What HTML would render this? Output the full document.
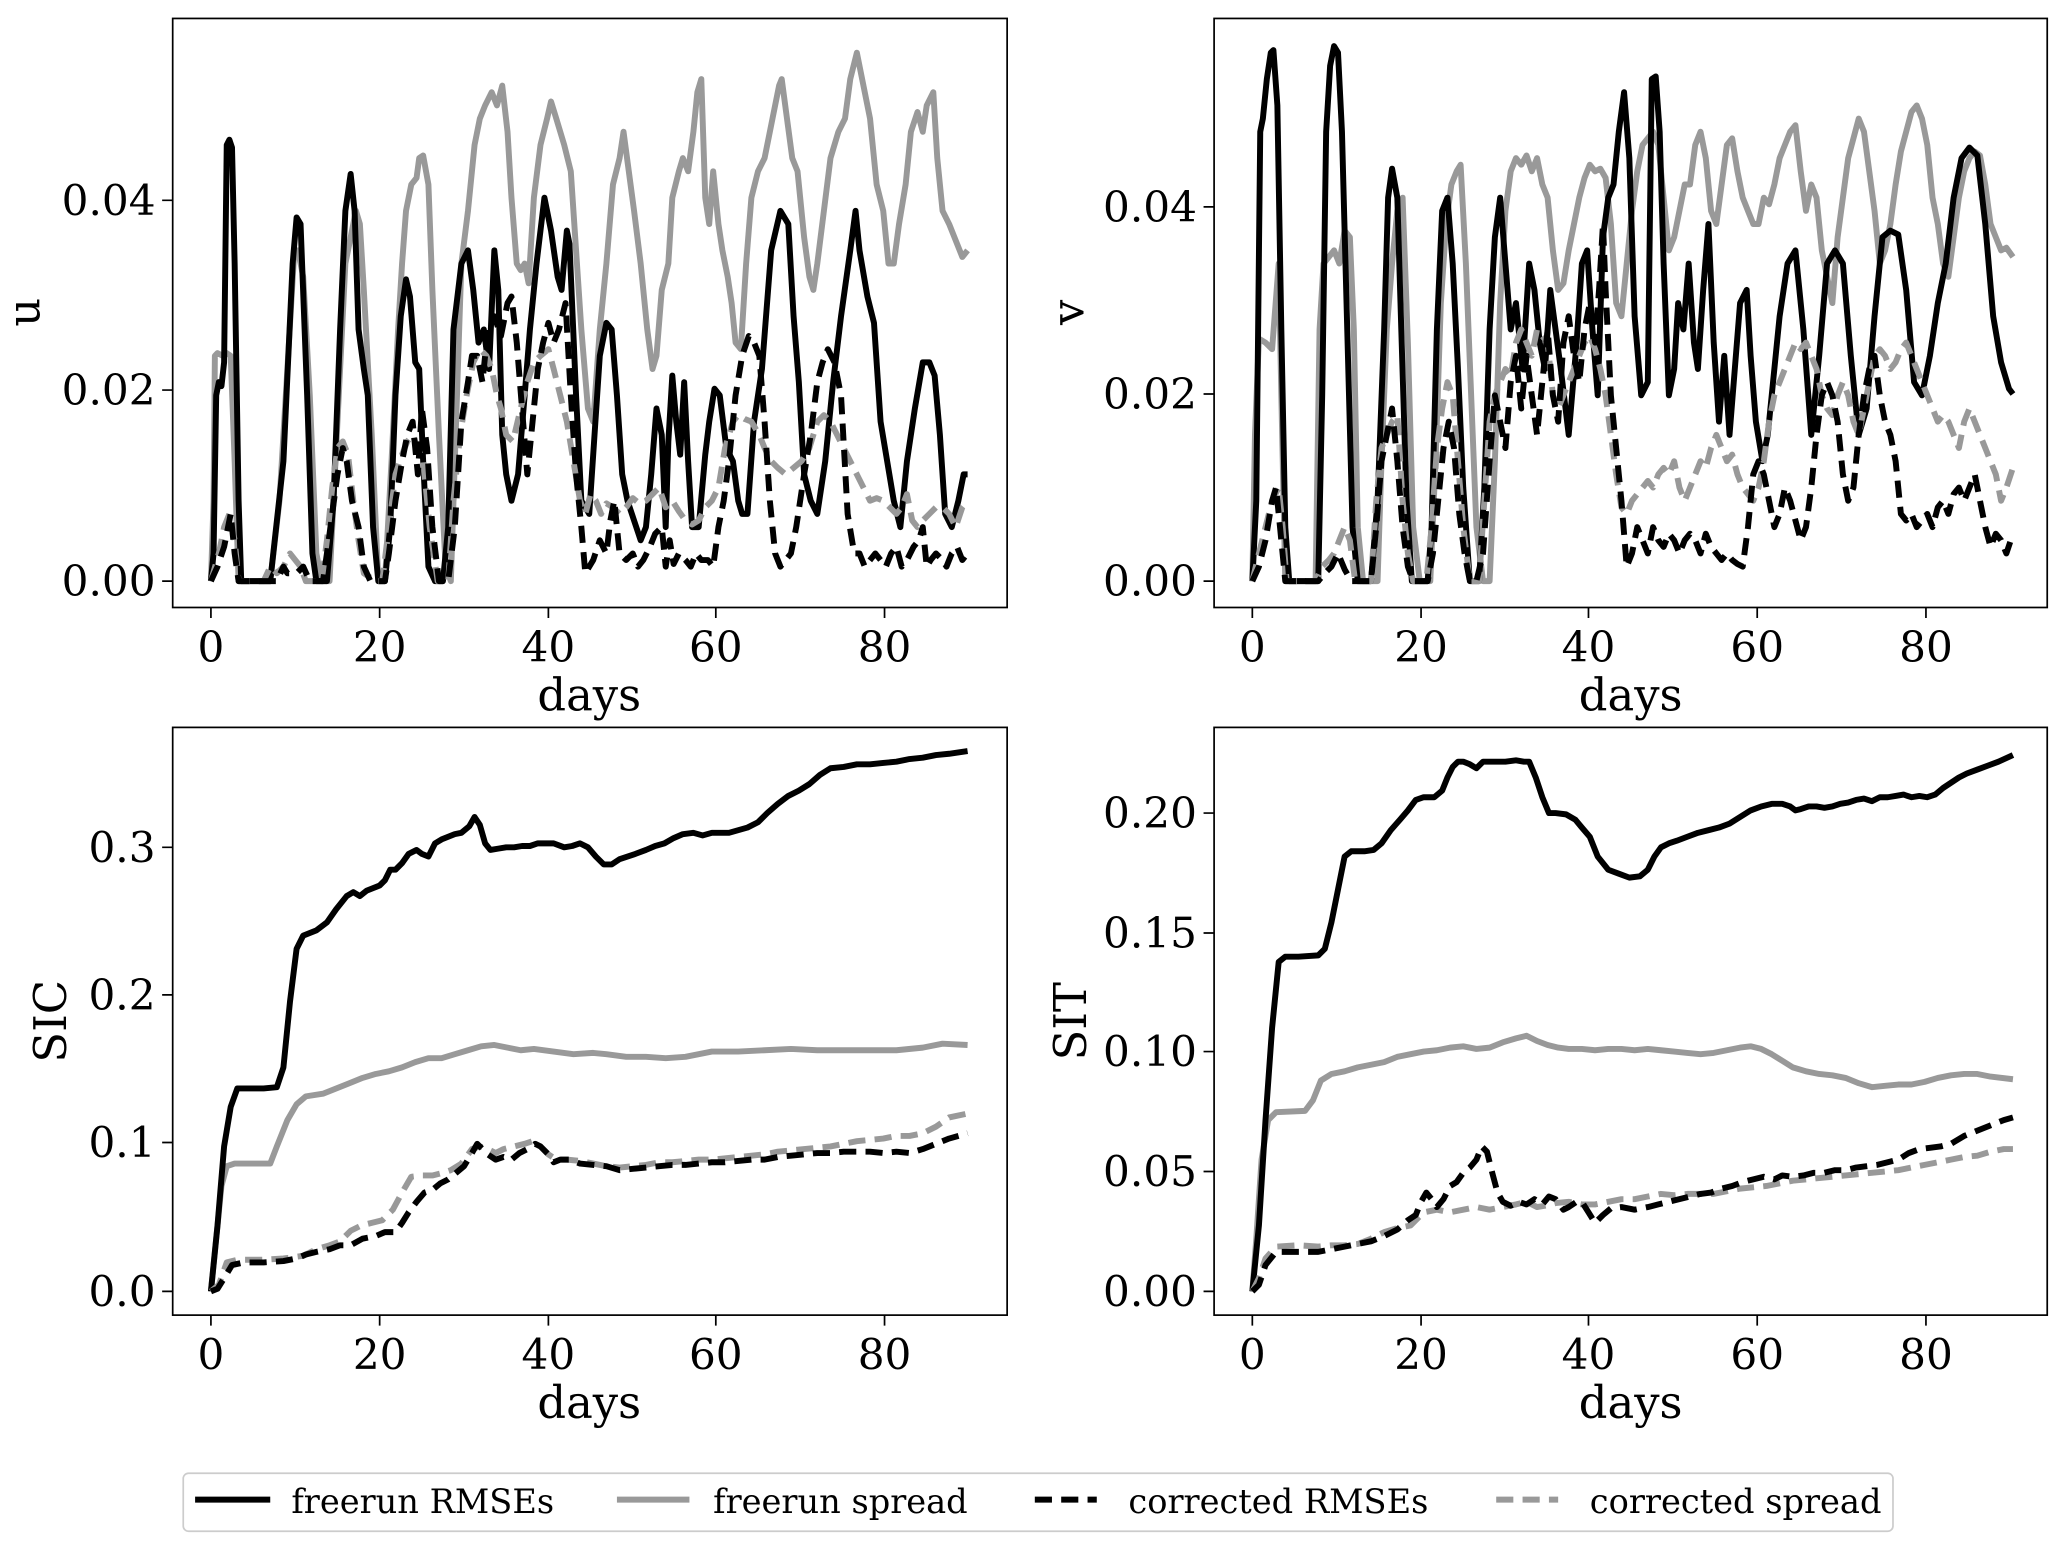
<!DOCTYPE html>
<html><head><meta charset="utf-8"><style>
html,body{margin:0;padding:0;background:#fff;}
svg{display:block;}
text{font-family:"DejaVu Serif","Liberation Serif",serif;fill:#000;}
.t{font-size:32px;}
.l{font-size:34px;}
.lg{font-size:25.5px;}
.k{fill:none;stroke:#000;stroke-width:4.5;stroke-linejoin:round;}
.g{fill:none;stroke:#999;stroke-width:4.5;stroke-linejoin:round;}
.kd{fill:none;stroke:#000;stroke-width:4.5;stroke-dasharray:13,7;stroke-linejoin:round;}
.gd{fill:none;stroke:#999;stroke-width:4.5;stroke-dasharray:13,7;stroke-linejoin:round;}
.ax{fill:none;stroke:#000;stroke-width:1.3;}
</style></head><body>
<svg width="2067" height="1551" viewBox="0 0 1568 1177" preserveAspectRatio="none" xmlns="http://www.w3.org/2000/svg">
<rect width="1568" height="1177" fill="#fff"/>

<!-- ===== Panel u ===== -->
<g>
<polyline class="g" points="160,441 162,380 163,270 165,268 169,270 172,268 175,270 178,350 181,441 205,441 212,380 218,280 223,195 226,190 230,210 235,300 240,420 244,441 250,441 253,380 258,280 262,200 266,180 270,160 273,170 276,220 282,330 287,441 292,441 297,350 302,250 305,200 308,160 312,140 316,135 318,120 321,118 325,140 328,220 333,330 338,430 342,441 345,350 350,200 355,160 360,110 364,90 368,80 373,70 377,80 381,65 385,100 388,150 392,200 395,205 398,200 401,215 405,150 410,110 415,90 418,77 422,90 428,110 433,130 437,190 441,250 446,310 450,320 455,250 460,200 465,140 470,120 473,100 477,130 481,160 486,200 491,250 495,280 498,270 502,220 507,200 510,150 515,130 518,120 522,130 526,100 529,70 532,60 535,150 538,170 541,130 545,170 548,190 552,210 555,230 558,260 562,265 566,200 570,150 575,130 580,120 586,90 591,65 593,60 597,90 601,120 605,130 610,180 614,210 617,220 620,200 625,160 630,120 636,100 641,90 645,60 650,40 654,60 660,90 665,140 670,160 674,200 678,200 682,170 687,140 691,100 696,85 700,100 703,80 708,70 711,120 715,160 720,170 724,180 730,195 734,190"/>
<polyline class="k" points="160,441 162,420 164,300 166,290 168,293 170,275 172,110 174,106 176,112 178,200 181,380 183,441 190,441 205,441 215,350 222,200 225,165 228,170 233,300 237,420 240,441 248,441 253,380 258,250 262,160 266,132 269,160 272,250 276,280 279,300 283,400 287,441 292,441 296,400 300,300 304,240 308,212 311,225 315,275 318,280 321,350 325,430 330,441 336,441 340,400 344,250 350,200 355,190 359,220 363,260 367,250 371,280 375,190 378,220 381,330 384,360 388,380 393,360 398,300 402,250 407,200 413,150 418,175 423,210 426,220 430,175 432,185 437,300 441,380 447,390 451,330 455,270 460,245 464,250 468,300 472,360 476,380 481,395 486,410 490,400 494,360 498,310 502,330 505,400 507,335 510,285 513,320 516,345 519,290 522,350 525,400 530,400 535,345 538,320 542,295 546,300 551,340 556,350 560,380 563,390 567,390 572,320 578,280 585,190 592,160 598,170 602,240 606,290 610,360 615,380 620,390 626,350 632,290 638,240 645,190 649,160 652,190 658,225 663,245 668,320 673,350 678,380 683,400 688,350 694,310 700,275 705,275 709,285 713,330 717,390 722,400 727,380 731,360 734,360"/>
<polyline class="gd" points="160,441 166,420 170,400 174,390 178,410 181,441 200,441 205,430 210,435 215,430 220,420 224,425 228,430 232,441 244,441 248,410 252,370 256,340 260,335 264,345 268,380 272,410 276,435 285,441 290,441 295,400 300,360 305,345 309,335 313,330 317,340 321,350 326,400 332,441 340,441 344,380 349,330 354,300 359,275 364,265 369,270 373,280 377,300 380,310 384,330 389,335 395,310 400,290 405,275 410,270 416,265 420,280 425,300 430,320 435,350 440,380 444,390 448,375 452,380 456,390 460,382 465,385 470,390 475,385 480,378 485,382 490,380 495,375 500,370 505,385 510,380 515,388 520,395 525,398 530,395 535,385 540,380 545,370 550,340 556,320 560,315 565,318 570,320 576,330 580,340 585,350 590,355 596,360 602,355 608,350 614,340 620,320 625,315 630,320 635,330 640,340 645,350 650,360 655,370 660,380 665,378 670,380 675,385 680,390 684,385 688,375 692,395 696,400 700,395 705,390 710,385 715,385 720,390 725,400 730,385 734,380"/>
<polyline class="kd" points="160,441 165,430 170,415 175,390 178,420 181,441 210,441 215,430 218,435 225,435 230,430 235,441 245,441 248,420 252,390 256,360 260,340 263,350 267,380 272,400 276,430 281,441 292,441 295,420 300,380 305,350 309,330 313,320 317,360 320,310 324,340 328,400 333,441 340,441 345,400 350,320 355,290 358,270 362,270 366,290 370,250 375,240 380,255 385,230 388,225 392,260 396,310 400,360 404,320 408,280 412,260 416,245 420,260 424,250 429,230 433,300 437,360 441,400 444,435 450,425 455,410 460,420 463,395 466,380 470,420 475,425 480,420 484,430 488,425 493,415 497,405 502,400 505,430 508,410 511,428 515,420 520,425 524,430 528,420 532,425 537,425 541,430 545,400 549,380 553,350 558,300 563,270 568,255 572,260 576,270 580,320 584,380 588,420 592,430 596,425 600,420 604,400 610,360 615,330 620,290 624,275 628,265 633,275 638,300 643,390 648,420 652,420 656,430 660,425 664,420 668,425 672,430 676,420 680,415 684,430 688,425 693,415 697,410 700,400 703,430 706,425 710,420 715,425 718,430 722,420 726,415 730,425 734,420"/>
<rect class="ax" x="131" y="14" width="633" height="447"/>
<path class="ax" d="M160,461v8M288,461v8M416,461v8M543,461v8M671,461v8M131,441h-8M131,296h-8M131,152h-8"/>
<g class="t" text-anchor="middle"><text x="160" y="502">0</text><text x="288" y="502">20</text><text x="416" y="502">40</text><text x="543" y="502">60</text><text x="671" y="502">80</text></g>
<g class="t" text-anchor="end"><text x="118" y="452">0.00</text><text x="118" y="307">0.02</text><text x="118" y="163">0.04</text></g>
<text class="l" x="447" y="539" text-anchor="middle">days</text>
<text class="l" transform="translate(30,237) rotate(-90)" text-anchor="middle">u</text>
</g>

<!-- ===== Panel v ===== -->
<g>
<polyline class="g" points="950,441 952,330 955,257 960,260 965,265 970,200 972,300 975,441 998,441 1001,250 1004,200 1008,195 1012,190 1016,200 1020,175 1024,180 1027,250 1030,400 1034,441 1045,441 1048,350 1052,250 1056,200 1060,160 1064,150 1068,260 1072,400 1077,441 1085,441 1089,350 1093,230 1097,170 1101,140 1105,130 1108,125 1112,200 1116,300 1120,400 1125,441 1130,441 1134,350 1138,230 1142,160 1146,130 1150,120 1154,125 1158,118 1162,130 1166,120 1170,140 1174,150 1178,190 1182,220 1186,215 1190,190 1194,170 1198,150 1202,135 1206,125 1210,130 1214,128 1218,135 1222,170 1226,230 1230,240 1234,200 1238,160 1242,130 1246,110 1250,105 1254,100 1258,110 1262,150 1266,190 1270,180 1274,160 1278,140 1282,140 1286,110 1290,100 1294,120 1298,160 1302,170 1306,140 1310,110 1314,105 1318,130 1322,150 1326,160 1330,170 1334,170 1338,150 1342,155 1346,140 1350,120 1354,110 1358,100 1362,95 1366,130 1370,160 1374,140 1378,150 1382,190 1386,210 1390,230 1394,180 1398,150 1402,120 1406,105 1410,90 1414,100 1418,130 1422,160 1426,200 1430,190 1434,170 1438,140 1442,115 1446,100 1450,85 1454,80 1458,90 1462,110 1466,150 1470,170 1474,200 1478,210 1482,180 1486,150 1490,130 1494,120 1498,115 1502,118 1506,140 1510,170 1514,180 1518,190 1522,188 1527,195"/>
<polyline class="k" points="950,441 953,380 956,100 958,90 961,60 964,40 966,38 969,80 972,250 975,400 978,441 1000,441 1003,300 1006,100 1009,50 1012,35 1015,40 1018,100 1022,250 1026,400 1030,441 1040,441 1045,380 1050,250 1053,150 1056,128 1060,150 1063,250 1067,380 1071,441 1083,441 1086,400 1090,250 1094,160 1098,150 1102,200 1106,280 1110,370 1115,441 1122,441 1126,370 1130,250 1134,180 1138,150 1142,200 1146,250 1150,230 1155,280 1160,200 1164,220 1168,260 1172,280 1176,220 1180,250 1184,280 1190,330 1196,260 1200,200 1204,190 1208,250 1212,300 1216,180 1220,150 1224,140 1228,100 1232,70 1236,120 1240,240 1245,300 1250,290 1253,60 1256,58 1259,100 1262,200 1266,300 1270,280 1273,230 1277,250 1281,200 1285,260 1288,280 1292,220 1296,170 1300,260 1304,320 1308,270 1312,330 1316,280 1320,230 1325,220 1328,270 1332,320 1337,350 1341,330 1345,290 1350,240 1356,200 1362,190 1368,250 1374,330 1380,270 1386,200 1392,190 1398,200 1404,270 1410,330 1416,310 1422,240 1428,180 1434,175 1440,178 1446,220 1452,290 1458,300 1464,270 1470,230 1476,200 1482,150 1488,120 1494,112 1500,118 1506,170 1512,240 1518,275 1524,295 1527,299"/>
<polyline class="gd" points="950,441 955,420 960,400 965,380 970,370 973,400 976,441 998,441 1003,430 1008,425 1012,420 1016,410 1020,400 1024,410 1028,441 1040,441 1044,380 1048,340 1052,330 1056,320 1060,315 1064,380 1068,420 1072,441 1082,441 1086,400 1090,340 1094,310 1098,290 1102,300 1106,350 1110,400 1115,441 1122,441 1126,380 1130,320 1134,300 1138,290 1142,280 1146,285 1150,260 1154,250 1158,260 1162,270 1166,250 1170,255 1174,260 1178,300 1182,310 1186,300 1190,290 1194,280 1198,270 1202,260 1206,255 1210,265 1214,280 1218,300 1222,330 1226,360 1230,385 1234,390 1238,380 1242,375 1246,370 1250,365 1254,370 1258,360 1262,355 1266,360 1270,350 1274,370 1278,380 1282,370 1286,360 1290,350 1294,355 1298,340 1302,330 1306,340 1310,350 1314,345 1318,360 1322,370 1326,375 1330,380 1334,370 1338,350 1342,320 1346,300 1350,290 1354,280 1358,270 1362,260 1366,265 1370,260 1374,270 1378,280 1382,300 1386,310 1390,315 1394,300 1398,290 1402,300 1406,320 1410,330 1414,310 1418,290 1422,270 1426,265 1430,270 1434,280 1438,275 1442,265 1446,260 1450,270 1454,280 1458,290 1462,300 1466,310 1470,320 1474,315 1478,320 1482,330 1486,340 1490,320 1494,310 1498,320 1502,330 1506,340 1510,350 1514,360 1518,380 1522,370 1527,355"/>
<polyline class="kd" points="950,441 955,430 960,410 965,380 968,370 971,400 975,441 1000,441 1005,435 1010,430 1015,420 1020,432 1025,441 1040,441 1044,400 1048,350 1052,330 1056,310 1060,350 1064,400 1068,430 1072,441 1083,441 1087,420 1091,380 1095,340 1099,320 1103,340 1107,390 1111,420 1115,441 1120,441 1125,420 1130,350 1134,300 1138,320 1142,340 1146,290 1150,270 1154,310 1158,270 1162,300 1166,330 1170,290 1174,250 1178,300 1182,320 1186,260 1190,240 1194,270 1198,290 1202,250 1206,230 1210,260 1213,220 1216,170 1218,220 1222,300 1226,340 1230,380 1234,430 1238,420 1242,400 1246,410 1250,420 1254,400 1258,410 1262,415 1266,405 1270,410 1274,420 1278,410 1282,405 1286,410 1290,420 1294,405 1298,415 1302,420 1306,425 1310,420 1314,425 1318,428 1322,430 1326,400 1330,360 1334,350 1338,360 1342,380 1346,400 1350,390 1354,370 1358,380 1362,395 1366,410 1370,400 1374,370 1378,330 1382,300 1386,290 1390,300 1394,320 1398,360 1402,380 1406,370 1410,330 1414,300 1418,280 1422,270 1426,300 1430,320 1434,330 1438,350 1442,390 1446,395 1450,390 1454,400 1458,395 1462,390 1466,400 1470,385 1474,380 1478,390 1482,375 1486,370 1490,380 1494,370 1498,360 1502,380 1506,400 1510,415 1514,405 1518,410 1522,420 1527,405"/>
<rect class="ax" x="921" y="14" width="632" height="447"/>
<path class="ax" d="M950,461v8M1078,461v8M1205,461v8M1333,461v8M1461,461v8M921,441h-8M921,299h-8M921,157h-8"/>
<g class="t" text-anchor="middle"><text x="950" y="502">0</text><text x="1078" y="502">20</text><text x="1205" y="502">40</text><text x="1333" y="502">60</text><text x="1461" y="502">80</text></g>
<g class="t" text-anchor="end"><text x="908" y="452">0.00</text><text x="908" y="310">0.02</text><text x="908" y="168">0.04</text></g>
<text class="l" x="1237" y="539" text-anchor="middle">days</text>
<text class="l" transform="translate(822,237) rotate(-90)" text-anchor="middle">v</text>
</g>

<!-- ===== Panel SIC ===== -->
<g>
<polyline class="g" points="160,980 163,950 168,900 172,885 178,883 205,883 210,870 218,850 225,838 232,832 245,830 255,826 265,822 275,818 285,815 295,813 305,810 315,806 325,803 335,803 345,800 355,797 365,794 375,793 385,795 395,797 405,796 420,798 435,800 450,799 460,800 475,802 490,802 505,803 520,802 530,800 540,798 560,798 580,797 600,796 620,797 640,797 660,797 680,797 700,795 715,792 734,793"/>
<polyline class="k" points="160,980 165,930 170,870 175,840 180,826 185,826 200,826 210,825 215,810 220,760 225,720 230,710 240,706 248,700 255,690 263,680 268,677 273,680 278,676 283,674 288,672 292,668 296,660 300,660 305,655 310,648 316,645 320,648 325,650 330,640 335,637 340,635 345,633 350,632 356,627 360,620 364,626 368,640 372,645 378,644 384,643 390,643 396,642 402,642 408,640 414,640 420,640 428,643 434,642 440,640 446,643 452,650 458,656 464,656 470,652 476,650 482,648 490,645 497,642 504,640 511,636 518,633 526,632 533,634 540,632 547,632 553,632 560,630 567,628 575,624 582,617 590,610 598,604 606,600 614,595 622,588 630,583 640,582 650,580 660,580 670,579 680,578 690,576 700,575 710,573 720,572 734,570"/>
<polyline class="gd" points="160,980 166,975 172,958 180,956 200,956 215,955 230,953 240,948 250,945 258,942 266,934 274,930 282,928 290,926 298,918 305,905 312,893 320,892 328,892 336,890 342,888 350,883 358,872 364,870 370,872 376,875 382,872 390,870 398,868 404,866 410,870 416,876 422,880 430,880 440,881 450,883 460,885 470,886 480,885 490,884 500,882 510,882 520,881 530,880 540,880 550,879 560,878 570,877 580,876 590,874 600,873 610,872 620,871 630,870 640,868 650,866 660,865 670,864 680,862 690,862 700,860 710,855 720,848 734,845"/>
<polyline class="kd" points="160,980 165,978 170,970 176,960 185,958 200,958 215,957 225,955 232,952 240,950 250,948 258,945 266,945 275,940 285,938 292,935 300,935 305,928 310,920 316,912 322,905 328,903 334,898 340,895 346,890 352,885 358,875 362,868 366,872 370,876 376,880 382,878 388,880 394,875 400,872 406,868 410,870 416,876 420,882 425,880 432,880 440,883 450,884 460,885 470,888 480,887 490,886 500,885 510,884 520,884 530,883 540,882 550,882 560,881 570,880 580,880 590,878 600,877 610,876 620,875 630,875 640,874 650,874 660,874 670,875 680,874 690,875 700,872 710,868 720,864 734,860"/>
<rect class="ax" x="131" y="552" width="633" height="446"/>
<path class="ax" d="M160,998v8M288,998v8M416,998v8M543,998v8M671,998v8M131,980h-8M131,867h-8M131,755h-8M131,643h-8"/>
<g class="t" text-anchor="middle"><text x="160" y="1039">0</text><text x="288" y="1039">20</text><text x="416" y="1039">40</text><text x="543" y="1039">60</text><text x="671" y="1039">80</text></g>
<g class="t" text-anchor="end"><text x="118" y="991">0.0</text><text x="118" y="878">0.1</text><text x="118" y="766">0.2</text><text x="118" y="654">0.3</text></g>
<text class="l" x="447" y="1076" text-anchor="middle">days</text>
<text class="l" transform="translate(50,775) rotate(-90)" text-anchor="middle">SIC</text>
</g>

<!-- ===== Panel SIT ===== -->
<g>
<polyline class="g" points="950,980 953,940 957,880 962,850 968,844 990,843 996,835 1002,820 1010,815 1020,813 1030,810 1040,808 1050,806 1060,802 1070,800 1080,798 1090,797 1100,795 1110,794 1120,796 1130,795 1140,791 1150,788 1158,786 1166,790 1174,793 1182,795 1190,796 1200,796 1210,797 1220,796 1230,796 1240,797 1250,796 1260,797 1270,798 1280,799 1290,800 1300,799 1310,797 1320,795 1328,794 1336,796 1344,800 1352,805 1360,810 1370,813 1380,815 1390,816 1400,818 1410,822 1420,825 1430,824 1440,823 1450,823 1460,821 1470,818 1480,816 1490,815 1500,815 1510,817 1527,819"/>
<polyline class="k" points="950,980 955,930 960,850 965,780 970,730 975,726 985,726 1000,725 1005,720 1010,700 1015,675 1020,650 1025,646 1035,646 1042,645 1048,640 1055,630 1062,622 1068,615 1074,607 1080,605 1088,605 1094,600 1098,590 1102,582 1106,578 1110,578 1115,580 1120,583 1125,578 1130,578 1136,578 1142,578 1150,577 1156,578 1160,578 1165,590 1170,605 1175,617 1180,617 1188,618 1195,622 1200,628 1206,635 1212,650 1220,660 1228,663 1236,666 1244,665 1250,660 1255,650 1260,643 1266,640 1272,638 1280,635 1288,632 1296,630 1304,628 1312,625 1320,620 1328,615 1336,612 1344,610 1352,610 1358,612 1362,615 1366,614 1372,612 1378,612 1384,613 1390,612 1396,610 1402,609 1408,607 1414,606 1420,608 1426,605 1432,605 1438,604 1444,603 1450,605 1456,604 1462,605 1468,603 1474,598 1480,594 1486,590 1492,587 1500,584 1508,581 1516,578 1527,573"/>
<polyline class="gd" points="950,980 955,970 960,955 968,946 985,945 1000,946 1010,945 1020,945 1030,944 1040,940 1050,935 1060,932 1070,930 1080,920 1090,918 1100,920 1110,918 1120,916 1130,918 1140,916 1150,914 1158,912 1166,916 1172,915 1180,913 1190,912 1200,914 1210,914 1220,912 1230,910 1240,910 1250,908 1260,906 1270,907 1280,906 1290,906 1300,906 1310,904 1320,902 1330,901 1340,900 1350,898 1360,896 1370,895 1380,894 1390,893 1400,892 1410,891 1420,890 1430,889 1440,888 1450,886 1460,884 1470,882 1480,880 1490,878 1500,877 1510,874 1520,872 1527,872"/>
<polyline class="kd" points="950,980 955,975 960,960 968,950 985,950 1000,950 1010,948 1020,946 1030,944 1040,942 1050,938 1060,933 1068,926 1074,922 1078,912 1082,905 1086,910 1090,916 1095,910 1100,900 1105,897 1110,890 1115,886 1120,880 1124,870 1128,874 1132,890 1136,905 1140,912 1146,915 1152,912 1158,914 1164,910 1170,914 1175,908 1180,910 1186,918 1190,916 1196,912 1200,912 1205,920 1210,928 1216,922 1222,917 1230,916 1240,918 1250,916 1258,914 1266,912 1274,910 1282,908 1290,906 1298,905 1306,902 1314,900 1322,897 1330,895 1338,893 1346,895 1352,892 1360,893 1368,892 1376,890 1384,890 1392,888 1400,888 1408,886 1416,885 1424,884 1432,882 1440,880 1448,875 1456,872 1464,871 1472,870 1480,868 1490,862 1500,858 1510,854 1520,850 1527,848"/>
<rect class="ax" x="921" y="552" width="632" height="446"/>
<path class="ax" d="M950,998v8M1078,998v8M1205,998v8M1333,998v8M1461,998v8M921,980h-8M921,889h-8M921,798h-8M921,708h-8M921,617h-8"/>
<g class="t" text-anchor="middle"><text x="950" y="1039">0</text><text x="1078" y="1039">20</text><text x="1205" y="1039">40</text><text x="1333" y="1039">60</text><text x="1461" y="1039">80</text></g>
<g class="t" text-anchor="end"><text x="908" y="991">0.00</text><text x="908" y="900">0.05</text><text x="908" y="809">0.10</text><text x="908" y="719">0.15</text><text x="908" y="628">0.20</text></g>
<text class="l" x="1237" y="1076" text-anchor="middle">days</text>
<text class="l" transform="translate(824,775) rotate(-90)" text-anchor="middle">SIT</text>
</g>

<!-- ===== Legend ===== -->
<rect x="139" y="1118" width="1297" height="44" rx="4" fill="#fff" stroke="#ccc" stroke-width="1.3"/>
<line class="k" x1="148" y1="1138" x2="205" y2="1138"/>
<line class="g" x1="468" y1="1138" x2="523" y2="1138"/>
<line class="kd" x1="785" y1="1138" x2="832" y2="1138"/>
<line class="gd" x1="1135" y1="1138" x2="1182" y2="1138"/>
<g class="lg"><text x="221" y="1148">freerun RMSEs</text><text x="541" y="1148">freerun spread</text><text x="856" y="1148">corrected RMSEs</text><text x="1206" y="1148">corrected spread</text></g>
</svg>
</body></html>
